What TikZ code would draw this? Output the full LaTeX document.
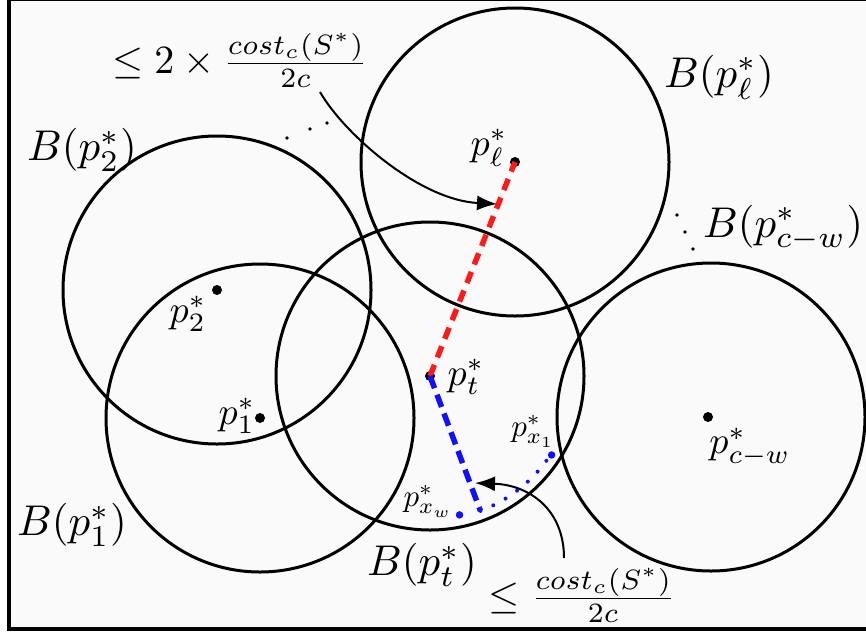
\documentclass[tikz,border=0pt]{standalone}
\usetikzlibrary{arrows.meta}
\definecolor{bg}{HTML}{FAFAFA}
\definecolor{myred}{HTML}{FF1A1A}
\definecolor{myblue}{HTML}{1010FF}
\tikzset{
  ring/.style={line width=3pt},
  dot/.style={circle, fill=black, inner sep=0pt, minimum size=10pt},
  bdot/.style={circle, fill=myblue, inner sep=0pt, minimum size=7.5pt},
  tiny/.style={circle, fill=black, inner sep=0pt, minimum size=3.8pt},
  blab/.style={inner sep=0pt, scale=4.3},
  plab/.style={inner sep=0pt, scale=3.8},
  slab/.style={inner sep=0pt, scale=3.1},
  flab/.style={inner sep=0pt, scale=4.0},
  arr/.style={line width=2pt, -{Latex[length=20pt,width=15pt]}},
}
\begin{document}
\begin{tikzpicture}[x=1pt,y=-1pt]
\useasboundingbox (0,0) rectangle (866,635);
\clip (0,0) rectangle (866,635);
\fill[white] (0,0) rectangle (866,635);
\draw[line width=4.5pt, fill=bg] (9,-1.2) rectangle (880,628.8);
% centres
\node[dot] (pl) at (515,162) {};
\node[dot] (p2) at (217,290) {};
\node[dot] (p1) at (260,418) {};
\node[dot] (pt) at (430,376) {};
\node[dot] (pcw) at (708,417) {};
% balls
\draw[ring] (pl.center) circle[radius=154pt];
\draw[ring] (p2.center) circle[radius=154pt];
\draw[ring] (p1.center) circle[radius=154pt];
\draw[ring] (pt.center) circle[radius=154pt];
\draw[ring] (711,417) circle[radius=154pt];
% blue points on the arc
\path (pt.center) ++(-33:145pt) node[bdot] (px1) {};
\path (pt.center) ++(-78:142pt) node[bdot] (pxw) {};
\path (pt.center) ++(-69.5:144pt) coordinate (pe);
% lines
\draw[myred, line width=5.5pt, dash pattern=on 12pt off 8pt] (pt.center) -- (pl.center);
\draw[myblue, line width=5.5pt, dash pattern=on 13pt off 7pt] (pt.center) -- (pe);
\draw[myblue, line width=4pt, line cap=round, dash pattern=on 0pt off 14pt]
  (pe) arc[start angle=-69.5, end angle=-33, radius=144pt];
% ellipsis dots
\node[tiny] (e1) at (287,138) {};
\node[tiny] (e2) at (310,129) {};
\node[tiny] (e3) at (327,123) {};
\node[tiny] (f1) at (677,215) {};
\node[tiny] (f2) at (685,232) {};
\node[tiny] (f3) at (693,249) {};
% labels
\node[plab] (lpl) at (489,148) {$p_\ell^*$};
\node[plab] (lp2) at (188,314) {$p_2^*$};
\node[plab] (lp1) at (237,416) {$p_1^*$};
\node[plab] (lpt) at (466,377) {$p_t^*$};
\node[plab] (lpcw) at (750,447) {$p_{c-w}^*$};
\node[slab] (lpx1) at (533,431) {$p_{x_1}^*$};
\node[slab] (lpxw) at (428,501) {$p_{x_w}^*$};
\node[blab] (Bl) at (719,77) {$B(p_\ell^*)$};
\node[blab] (B2) at (82,150) {$B(p_2^*)$};
\node[blab] (Bcw) at (783,228) {$B(p_{c-w}^*)$};
\node[blab] (B1) at (72,525) {$B(p_1^*)$};
\node[blab] (Bt) at (422,565) {$B(p_t^*)$};
\node[flab] (top) at (240,60) {$\leq 2\times\frac{cost_c(S^*)}{2c}$};
\node[flab] (bot) at (582,595) {$\leq\frac{cost_c(S^*)}{2c}$};
% arrows
\coordinate (t1) at (497,204);
\coordinate (t2) at (475,483);
\coordinate (s1) at (320,92);
\coordinate (s2) at (564,558);
\draw[arr] (s1) .. controls (345,135) and (420,200) .. (t1);
\draw[arr] (s2) .. controls (564,510) and (530,485) .. (t2);
\end{tikzpicture}
\end{document}
